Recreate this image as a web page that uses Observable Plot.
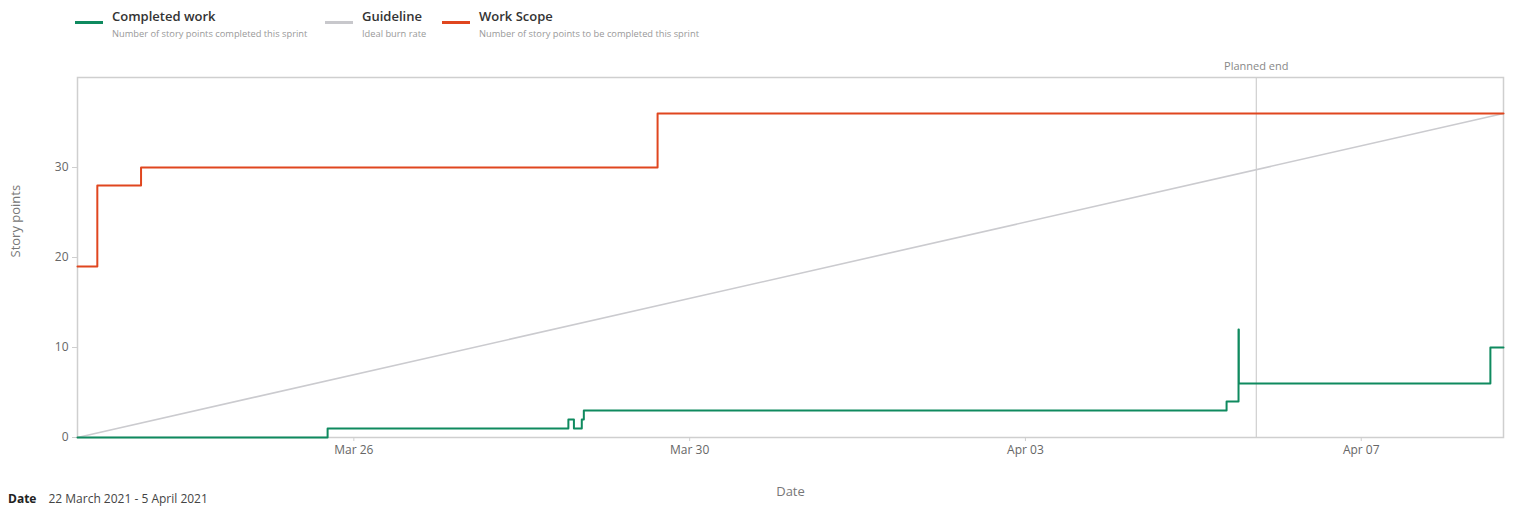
<!DOCTYPE html>
<html>
<head>
<meta charset="utf-8">
<script src="https://cdn.jsdelivr.net/npm/d3@7"></script>
<script src="https://cdn.jsdelivr.net/npm/@observablehq/plot@0.6"></script>
<style>
  html, body { margin: 0; padding: 0; background: #fff; overflow: hidden; }
  body { width: 1514px; height: 506px; position: relative; font-family: "Segoe UI", "Open Sans", sans-serif; }
  #legend { position: absolute; left: 0; top: 0; width: 1514px; height: 48px; }
  .sw { position: absolute; top: 21px; width: 28px; height: 3px; }
  .ttl { position: absolute; top: 8px; font-size: 13px; line-height: 16px; font-weight: 600; color: #333; white-space: nowrap; }
  .sub { position: absolute; top: 28px; font-size: 9.3px; line-height: 12px; color: #999; white-space: nowrap; }
  #chart { position: absolute; left: 0; top: 48px; }
  #footer { position: absolute; left: 8px; top: 491px; font-size: 12px; line-height: 15px; color: #444; white-space: nowrap; }
  #footer b { color: #222; margin-right: 12px; }
</style>
</head>
<body>
<div id="legend"></div>
<div id="chart"></div>
<div id="footer"><b>Date</b>22 March 2021 - 5 April 2021</div>
<script>
// Sprint window and planned end
const sprintStart = "2021-03-22T17:00Z";
const plannedEnd = "2021-04-05T18:00Z";
const chartEnd = "2021-04-08T16:40Z";

// Work Scope: story points committed to the sprint (step changes)
const scopeTimes = [sprintStart, "2021-03-22T22:40Z", "2021-03-23T11:10Z", "2021-03-29T14:50Z", chartEnd];
const scopeValues = [19, 28, 30, 36, 36];

// Completed work: story points done (step changes)
const doneTimes = [sprintStart, "2021-03-25T16:30Z", "2021-03-28T13:20Z", "2021-03-28T14:55Z",
  "2021-03-28T17:10Z", "2021-03-28T17:45Z", "2021-04-05T09:30Z", "2021-04-05T12:55Z",
  "2021-04-05T13:00Z", "2021-04-08T12:55Z", chartEnd];
const doneValues = [0, 1, 2, 1, 2, 3, 4, 12, 6, 10, 10];

// Guideline: ideal burn-up from zero to full scope
const guideTimes = [sprintStart, chartEnd];
const guideValues = [0, 36];

const yTicks = [0, 10, 20, 30];
const xTicks = ["2021-03-26", "2021-03-30", "2021-04-03", "2021-04-07"];

const series = [
  {name: "Completed work", desc: "Number of story points completed this sprint", color: "#0f8a5f", left: 75},
  {name: "Guideline", desc: "Ideal burn rate", color: "#c8c8cc", left: 325},
  {name: "Work Scope", desc: "Number of story points to be completed this sprint", color: "#e0461f", left: 442}
];

const legend = document.getElementById("legend");
for (const s of series) {
  const sw = document.createElement("div");
  sw.className = "sw"; sw.style.left = s.left + "px"; sw.style.background = s.color;
  const t = document.createElement("div");
  t.className = "ttl"; t.style.left = (s.left + 37) + "px"; t.textContent = s.name;
  const d = document.createElement("div");
  d.className = "sub"; d.style.left = (s.left + 37) + "px"; d.textContent = s.desc;
  legend.append(sw, t, d);
}

const toRows = (times, values) => times.map((t, i) => ({t: new Date(t), v: values[i]}));
const scope = toRows(scopeTimes, scopeValues);
const done = toRows(doneTimes, doneValues);
const guide = toRows(guideTimes, guideValues);

const frameColor = "#cfcfcf";

const chart = Plot.plot({
  width: 1514,
  height: 450,
  marginLeft: 77,
  marginRight: 11,
  marginTop: 29,
  marginBottom: 61,
  style: {fontFamily: "'Segoe UI', 'Open Sans', sans-serif", fontSize: "12px", color: "#666", background: "#fff"},
  x: {type: "utc", domain: [new Date(sprintStart), new Date(chartEnd)]},
  y: {domain: [0, 40]},
  marks: [
    Plot.frame({stroke: frameColor, strokeWidth: 1.5}),
    Plot.ruleX([new Date(plannedEnd)], {stroke: frameColor, strokeWidth: 1.2}),
    Plot.text([new Date(plannedEnd)], {x: d => d, frameAnchor: "top", dy: -15, text: () => "Planned end", fill: "#888", fontSize: 11}),
    Plot.axisY({ticks: yTicks, tickSize: 5, tickPadding: 4, stroke: frameColor, fill: "#666", label: null, fontSize: 12}),
    Plot.axisX({ticks: xTicks.map(d => new Date(d)), tickFormat: d3.utcFormat("%b %d"), tickSize: 4, tickPadding: 4, stroke: frameColor, fill: "#666", label: null, fontSize: 12}),
    Plot.text(["Story points"], {frameAnchor: "left", dx: -62, rotate: -90, text: d => d, fill: "#777", fontSize: 13}),
    Plot.text(["Date"], {frameAnchor: "bottom", dy: 58, text: d => d, fill: "#777", fontSize: 13}),
    Plot.lineY(guide, {x: "t", y: "v", stroke: "#cbcbcf", strokeWidth: 1.6}),
    Plot.lineY(scope, {x: "t", y: "v", curve: "step-after", stroke: "#e0461f", strokeWidth: 2}),
    Plot.lineY(done, {x: "t", y: "v", curve: "step-after", stroke: "#0f8a5f", strokeWidth: 2})
  ]
});
document.getElementById("chart").append(chart);
</script>
</body>
</html>
